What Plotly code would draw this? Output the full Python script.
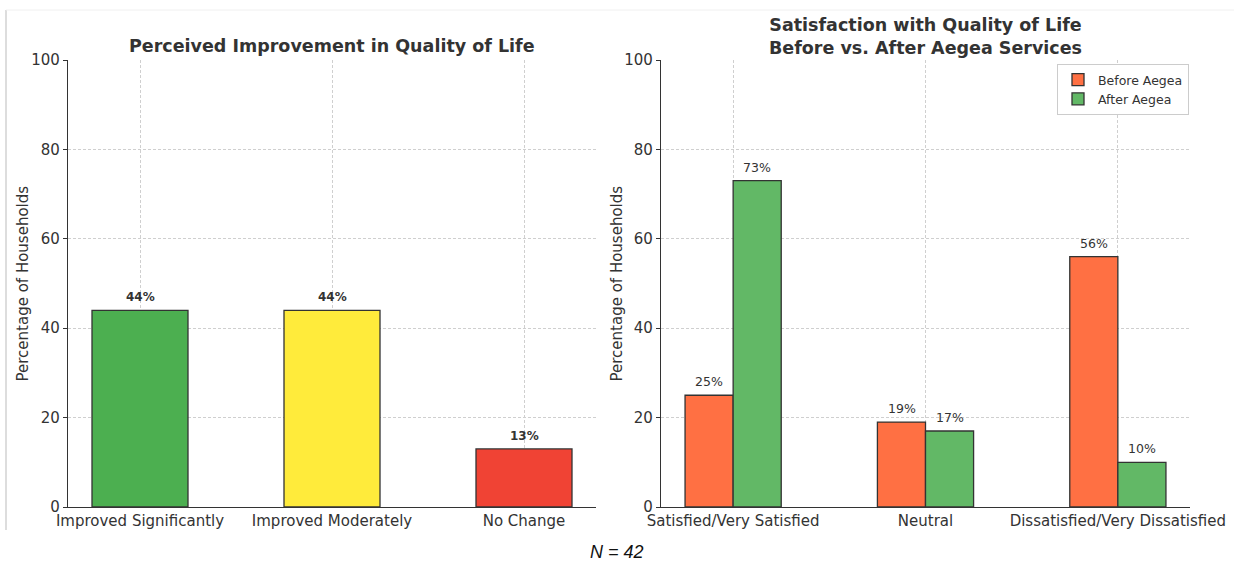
import plotly.graph_objects as go

# Data
improve_cats = ["Improved Significantly", "Improved Moderately", "No Change"]
improve_vals = [44, 44, 13]
improve_colors = ["#4CAF50", "#FFEB3B", "#F04334"]

sat_cats = ["Satisfied/Very Satisfied", "Neutral", "Dissatisfied/Very Dissatisfied"]
before_vals = [25, 19, 56]
after_vals = [73, 17, 10]
series_names = ["Before Aegea", "After Aegea"]
series_colors = ["#FF7043", "#62B866"]

yticks = [0, 20, 40, 60, 80, 100]
y_title = "Percentage of Households"

W, H = 1234, 561
FONT = "DejaVu Sans"
TXT = "#333333"

fig = go.Figure()

fig.add_trace(go.Bar(
    x=improve_cats, y=improve_vals, marker_color=improve_colors,
    marker_line_color="#333333", marker_line_width=1.3,
    xaxis="x", yaxis="y", showlegend=False, width=0.5,
))

for name, vals, col, off in zip(series_names, [before_vals, after_vals], series_colors, [-0.25, 0.0]):
    fig.add_trace(go.Bar(
        x=sat_cats, y=vals, name=name, marker_color=col,
        marker_line_color="#333333", marker_line_width=1.3,
        xaxis="x2", yaxis="y2", width=0.25, offset=off,
    ))

ann = []
for c, v in zip(improve_cats, improve_vals):
    ann.append(dict(x=c, y=v, xref="x", yref="y", text=f"{v}%", showarrow=False,
                    yanchor="bottom", yshift=4, font=dict(family=FONT, size=12, color=TXT, weight="bold")))
for vals, shift in zip([before_vals, after_vals], [-24, 24]):
    for c, v in zip(sat_cats, vals):
        ann.append(dict(x=c, y=v, xref="x2", yref="y2", text=f"{v}%", showarrow=False,
                        yanchor="bottom", yshift=4, xshift=shift, font=dict(family=FONT, size=12.5, color=TXT)))

ann.append(dict(x=332/W, y=1-46/H, xref="paper", yref="paper", showarrow=False, xanchor="center",
                text="<b>Perceived Improvement in Quality of Life</b>",
                font=dict(family=FONT, size=17.5, color=TXT), yanchor="middle"))
ann.append(dict(x=926/W, y=1-36.5/H, xref="paper", yref="paper", showarrow=False, xanchor="center",
                text="<b>Satisfaction with Quality of Life<br>Before vs. After Aegea Services</b>",
                font=dict(family=FONT, size=17.5, color=TXT), yanchor="middle"))
ann.append(dict(x=617/W, y=1-552/H, xref="paper", yref="paper", showarrow=False, xanchor="center",
                text="<i>N = 42</i>", font=dict(family="Liberation Sans", size=18, color="#111111"),
                yanchor="middle"))
for xp in [22, 616]:
    ann.append(dict(x=xp/W, y=1-283.5/H, xref="paper", yref="paper", showarrow=False, textangle=-90,
                    xanchor="center", yanchor="middle", text=y_title,
                    font=dict(family=FONT, size=15, color=TXT)))

axis_common = dict(
    showline=True, linecolor="#333333", linewidth=1.3,
    showgrid=True, gridcolor="#cfcfcf", griddash="3px,2px", gridwidth=0.8,
    tickfont=dict(family=FONT, size=15, color=TXT), zeroline=False,
)
xaxis_common = dict(ticks="", **axis_common)
yaxis_common = dict(ticks="outside", ticklen=4, tickcolor="#333333", range=[0, 100], tickvals=yticks,
                    domain=[1-507/H, 1-60/H], **axis_common)

fig.update_layout(
    width=W, height=H, margin=dict(l=0, r=0, t=0, b=0, autoexpand=False),
    paper_bgcolor="white", plot_bgcolor="white",
    barmode="overlay", hovermode=False,
    xaxis=dict(domain=[68/W, 596/W], anchor="y", range=[-0.375, 2.375], **xaxis_common),
    yaxis=dict(anchor="x", **yaxis_common),
    xaxis2=dict(domain=[661/W, 1190/W], anchor="y2", range=[-0.375, 2.375], **xaxis_common),
    yaxis2=dict(anchor="x2", **yaxis_common),
    legend=dict(x=1057/W, y=1-64/H, xanchor="left", yanchor="top", bgcolor="white",
                bordercolor="#cccccc", borderwidth=1, font=dict(family=FONT, size=12.5, color=TXT),
                tracegroupgap=2, itemwidth=30),
    annotations=ann,
    shapes=[
        dict(type="line", xref="paper", yref="paper", x0=6/W, x1=6/W, y0=1-530/H, y1=1-10/H,
             line=dict(color="#bbbbbb", width=1)),
        dict(type="line", xref="paper", yref="paper", x0=6/W, x1=1, y0=1-10/H, y1=1-10/H,
             line=dict(color="#f0f0f0", width=1)),
    ],
)

fig.write_html("out.html", config={"displayModeBar": False},
               post_script="document.body.style.margin='0';document.body.style.overflow='hidden';")
